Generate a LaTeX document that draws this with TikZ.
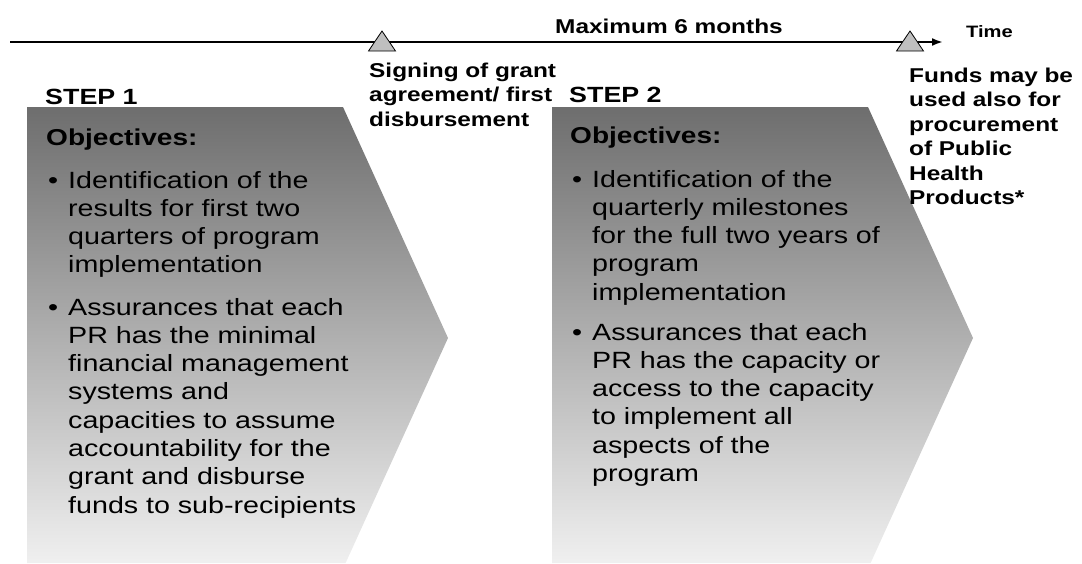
\documentclass[tikz,border=0pt]{standalone}
\usepackage{fontspec}
\setmainfont{Liberation Sans}[FakeStretch=1.22]
\usetikzlibrary{arrows.meta}
\tikzset{
  lbl/.style={inner sep=0pt, anchor=base west, align=left, text width=#1},
  lbl/.default=300pt,
  bodyfont/.style={font=\fontsize{23.5}{28.3}\selectfont},
  headfont/.style={font=\fontsize{20}{24.5}\selectfont\bfseries},
  stepfont/.style={font=\fontsize{22}{26}\selectfont\bfseries},
  objfont/.style={font=\fontsize{23}{28}\selectfont\bfseries},
  marker/.style={fill=black!25, draw=black, line width=0.8pt, line join=miter},
  chev/.style={top color=black!57, bottom color=black!6, draw=none},
}
\begin{document}
\begin{tikzpicture}[x=1pt,y=-1pt]
\useasboundingbox (0,0) rectangle (1082,563);
% chevrons
\shade[chev] (27,107) -- (343,107) -- (448,338) -- (345.6,563) -- (27,563) -- cycle;
\shade[chev] (552,107) -- (868,107) -- (973,338) -- (870.6,563) -- (552,563) -- cycle;
% timeline
\coordinate (tl0) at (10,42);
\coordinate (tl1) at (943,42);
\draw[line width=2pt, -{Latex[length=11pt,width=8pt]}] (tl0) -- (tl1);
\draw[marker] (382,31) -- (395.5,51) -- (368.5,51) -- cycle;
\draw[marker] (910,31) -- (923.5,51) -- (896.5,51) -- cycle;
% top labels
\node[lbl, headfont] (max) at (555,33) {Maximum 6 months};
\node[lbl, font=\fontsize{16.5}{20}\selectfont\bfseries] (time) at (966,37) {Time};
\node[lbl, headfont] (sign) at (369,77) {Signing of grant\\agreement/ first\\disbursement};
\node[lbl, headfont] (funds) at (909,82) {Funds may be\\used also for\\procurement\\of Public\\Health\\Products*};
\node[lbl, stepfont] (step1) at (45,104) {STEP 1};
\node[lbl, stepfont] (step2) at (569,102) {STEP 2};
% chevron 1 text
\node[lbl, objfont] (obj1) at (46,145) {Objectives:};
\node[lbl, bodyfont] (b11) at (48,188) {•};
\node[lbl, bodyfont] (t11) at (68,188) {Identification of the\\results for first two\\quarters of program\\implementation};
\node[lbl, bodyfont] (b12) at (48,315) {•};
\node[lbl, bodyfont] (t12) at (68,315) {Assurances that each\\PR has the minimal\\financial management\\systems and\\capacities to assume\\accountability for the\\grant and disburse\\funds to sub-recipients};
% chevron 2 text
\node[lbl, objfont] (obj2) at (570,143) {Objectives:};
\node[lbl, bodyfont] (b21) at (572,187) {•};
\node[lbl, bodyfont] (t21) at (592,187) {Identification of the\\quarterly milestones\\for the full two years of\\program\\implementation};
\node[lbl, bodyfont] (b22) at (572,340) {•};
\node[lbl, bodyfont] (t22) at (592,340) {Assurances that each\\PR has the capacity or\\access to the capacity\\to implement all\\aspects of the\\program};
\end{tikzpicture}
\end{document}
